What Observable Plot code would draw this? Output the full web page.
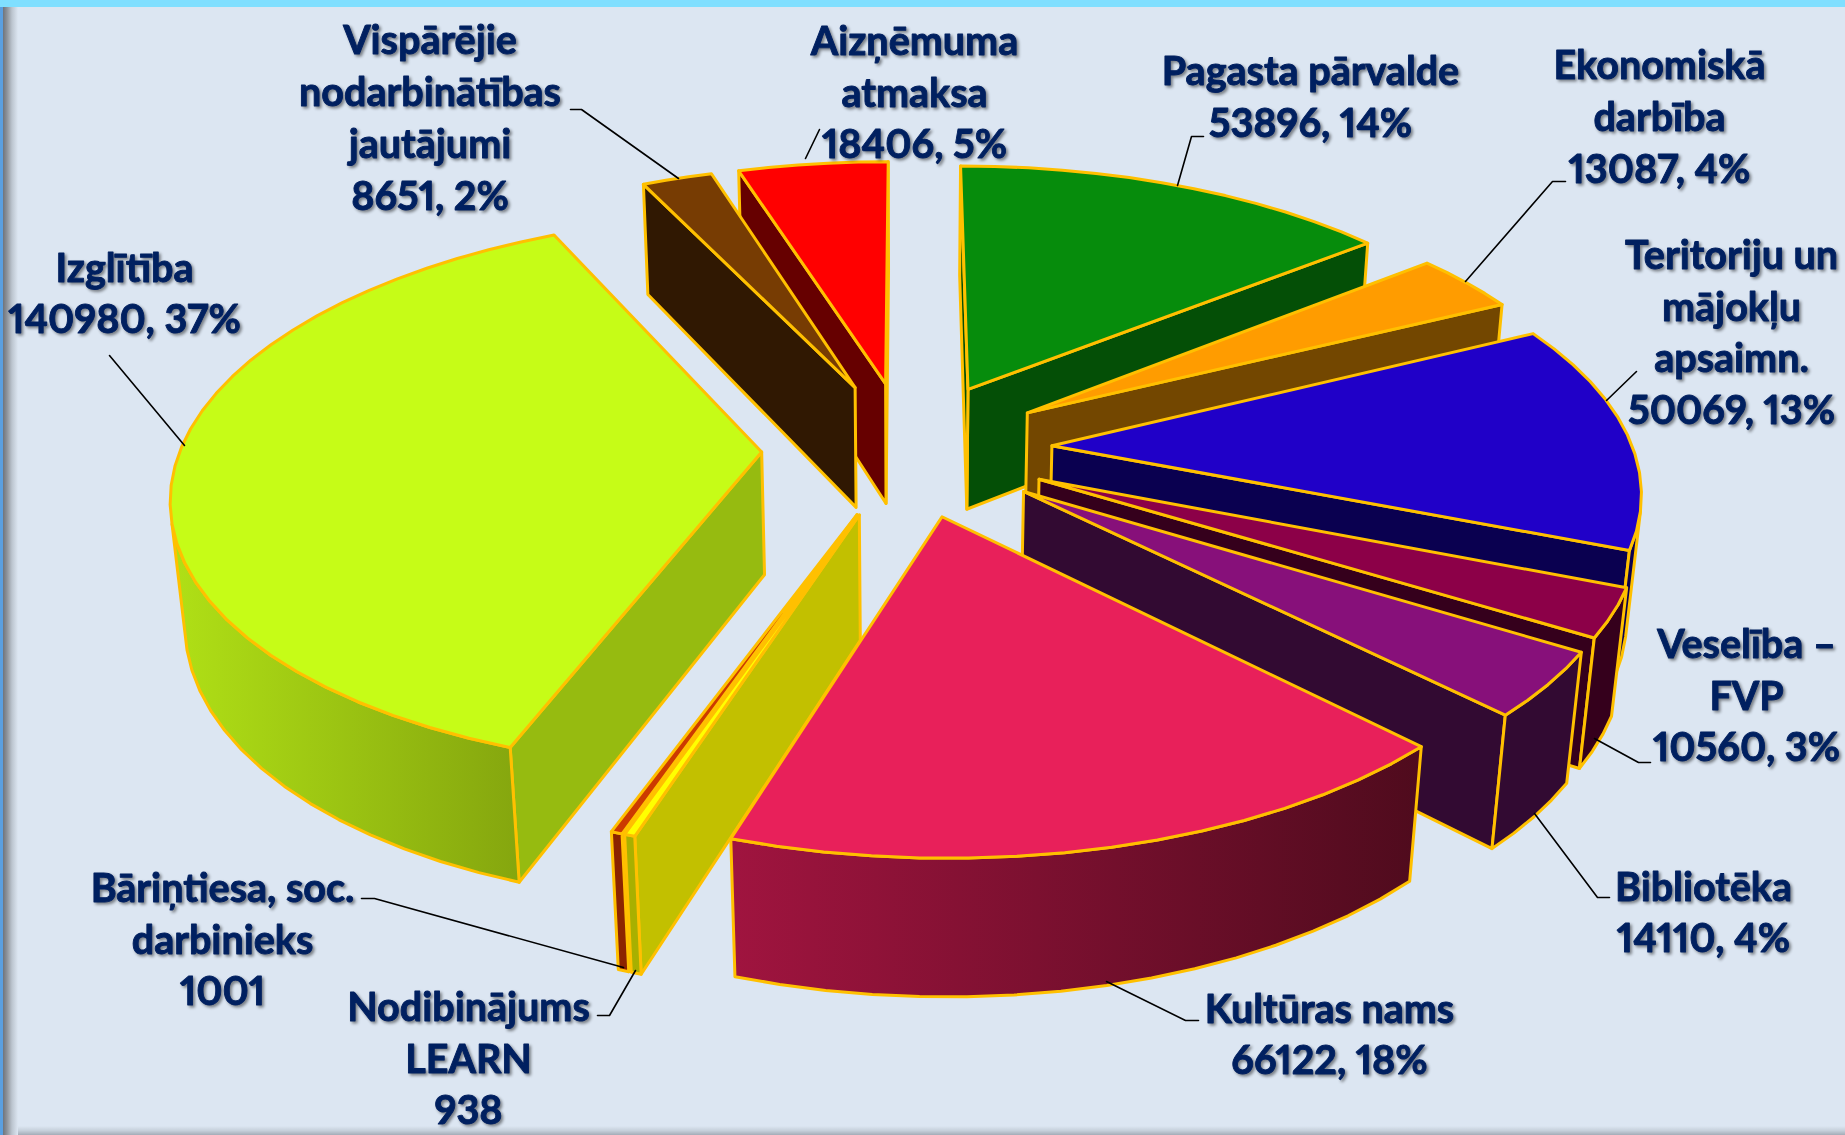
<!DOCTYPE html>
<html><head><meta charset="utf-8">
<script src="https://cdn.jsdelivr.net/npm/d3@7"></script>
<script src="https://cdn.jsdelivr.net/npm/@observablehq/plot@0.6"></script>
<style>
html,body{margin:0;padding:0;background:#dce6f2;overflow:hidden}
#frame{position:relative;width:1845px;height:1135px;overflow:hidden}
#top{position:absolute;left:0;top:0;width:1845px;height:7px;background:#80dfff}
#left{position:absolute;left:0;top:7px;width:18px;height:1128px;background:linear-gradient(90deg,#5a9fe0 0,#5a9fe0 2.5px,#6f747c 3px,#8d939b 7px,#bcc5cf 12px,#dce6f2 100%)}
#bottom{position:absolute;left:0;bottom:0;width:1845px;height:9px;background:linear-gradient(180deg,#dce6f2,#c6d0db 50%,#a3acb7)}
#chart{position:absolute;left:0;top:0}
#chart text{filter:drop-shadow(2px 2.5px 1.5px rgba(0,0,0,.45));font-feature-settings:"pnum"}
</style></head><body>
<div id="frame"><div id="top"></div><div id="bottom"></div><div id="left"></div><div id="chart"></div></div>
<script>
// ---- data
const names = ["Pagasta pārvalde","Ekonomiskā\ndarbība","Teritoriju un\nmājokļu\napsaimn.","Veselība –\nFVP","Bibliotēka","Kultūras nams","Nodibinājums\nLEARN","Bāriņtiesa, soc.\ndarbinieks","Izglītība","Vispārējie\nnodarbinātības\njautājumi","Aizņēmuma\natmaksa"];
const values = [53896,13087,50069,10560,14110,66122,938,1001,140980,8651,18406];
const percents = [14,4,13,3,4,18,null,null,37,2,5];
const topColors = ["#068c0c","#ff9c00","#2000c8","#8c0048","#87107a","#e8205a","#ffff00","#cc3a00","#c6fc17","#773c03","#ff0000"];
const sideColors = ["#044f06","#734700","#0a0050","#35001c","#320a32","#520b1e","#c2c000","#8c2400","#96bb10","#301802","#660000"];
const rimColors = ["#044f06","#734700","#0a0050","#35001c","#320a32","url(#rimKult)","#a8b000","#8c2400","url(#rimIzgl)","#301802","#660000"];
const drawOrder = [0,1,2,3,4,10,9,8,7,6,5];

// ---- label placement in the picture
const labelX = [1310,1659,1731,1746,1703,1329,468,222,124,429.5,914];
const labelY = [94,114,329.5,692.5,909.5,1031.5,1055.5,936.5,290.5,115,89.5];
const leaders = [
  [[1203,136],[1191,136],[1177,185]],
  [[1565,181],[1552,181],[1465,281]],
  [[1636,371],[1606,400]],
  [[1650,762],[1638,762],[1594,738]],
  [[1609,897],[1597,897],[1534,813]],
  [[1198,1020],[1185,1020],[1106,981]],
  [[597,1015],[609,1015],[635,970]],
  [[361,898],[374,898],[623,967]],
  [[109,355],[184,445]],
  [[570,109],[581,109],[678,178]],
  [[819,129],[805,158]]
];

// ---- view of the 3D pie: every slice is exploded by the same share of the radius
const view = {cx:906.5, cy:448, radius:581, tilt:271, persp:0.143, explode:0.25, depth:125, sink:0.02, facet:4*Math.PI/180};
function project(X, Z, Y){
  const w = 1 - view.persp*Z + view.sink*Y;
  return {x: view.cx + view.radius*X/w, y: view.cy + (view.tilt*Z + view.depth*Y)/w};
}
const arcs = d3.pie().sort(null)(values);
function area(q){let s=0;q.forEach((p,i)=>{const n=q[(i+1)%q.length];s+=p.x*n.y-n.x*p.y});return s/2}

function facesOf(i){
  const a = arcs[i], mid=(a.startAngle+a.endAngle)/2;
  const ex = view.explode*Math.sin(mid), ez = -view.explode*Math.cos(mid);
  const n = Math.max(1,Math.ceil((a.endAngle-a.startAngle)/view.facet));
  const ring = d3.range(n+1).map(k=>{const t=a.startAngle+(a.endAngle-a.startAngle)*k/n;return [ex+Math.sin(t),ez-Math.cos(t)]});
  const apex=[ex,ez];
  const T=p=>project(p[0],p[1],0), B=p=>project(p[0],p[1],1);
  const quad=(p,q)=>[T(p),T(q),B(q),B(p)];
  const out=[];
  // straight cut walls
  [[ring[n],apex],[apex,ring[0]]].forEach(([p,q])=>{const f=quad(p,q); if(area(f)<0) out.push({pts:f,fill:sideColors[i]})});
  // outer rim, only the run of facets turned to the viewer
  let run=[];
  const flush=()=>{ if(run.length){ const tops=run.map(T), bots=run.map(B).reverse(); out.push({pts:tops.concat(bots),fill:rimColors[i]}); run=[]; } };
  for(let k=0;k<n;k++){
    const f=quad(ring[k],ring[k+1]);
    if(area(f)<0){ if(!run.length) run.push(ring[k]); run.push(ring[k+1]); } else flush();
  }
  flush();
  out.push({pts:[apex,...ring].map(T),fill:topColors[i]});
  return out;
}

const faceMarks = drawOrder.flatMap(facesOf).map(f=>Plot.line(f.pts,{x:"x",y:"y",curve:"linear-closed",fill:f.fill,stroke:"#ffc000",strokeWidth:3,strokeLinejoin:"round"}));

const labels = names.map((n,i)=>({
  text:`${n}\n${values[i]}${percents[i]==null?"":`, ${percents[i]}%`}`,
  x:labelX[i], y:labelY[i]
}));

function gradient(id,c0,c1){
  const ns="http://www.w3.org/2000/svg", g=document.createElementNS(ns,"linearGradient");
  g.setAttribute("id",id);
  [[0,c0],[1,c1]].forEach(([o,c])=>{const s=document.createElementNS(ns,"stop");s.setAttribute("offset",o);s.setAttribute("stop-color",c);g.appendChild(s)});
  return g;
}
const defs=()=>{const d=document.createElementNS("http://www.w3.org/2000/svg","defs");
  d.appendChild(gradient("rimKult","#a0143f","#4f0b1d"));
  d.appendChild(gradient("rimIzgl","#b0e016","#85a60e"));
  return d;};

const chart = Plot.plot({
  width:1845,height:1135,margin:0,
  x:{domain:[0,1845],axis:null},
  y:{domain:[1135,0],axis:null},
  style:{background:"transparent"},
  marks:[
    defs,
    ...faceMarks,
    ...leaders.map(l=>Plot.line(l,{x:d=>d[0],y:d=>d[1],stroke:"#000",strokeWidth:1.6})),
    Plot.text(labels,{x:"x",y:"y",text:"text",textAnchor:"middle",lineAnchor:"middle",lineHeight:1.31,fontSize:39.5,fontWeight:700,fontFamily:"Lato",fill:"#002060",stroke:"#002060",strokeWidth:0.9})
  ]
});
document.getElementById("chart").appendChild(chart);
</script></body></html>
